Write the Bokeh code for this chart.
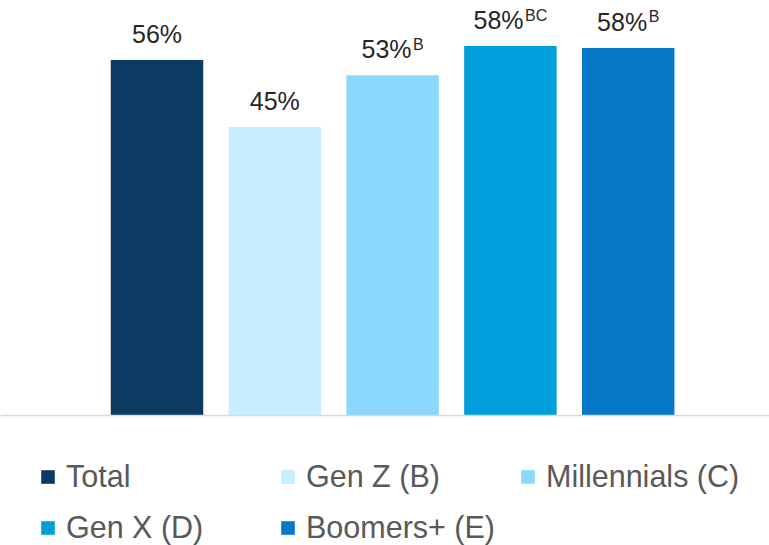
import numpy as np
from bokeh.plotting import figure
from bokeh.models import (ColumnDataSource, Range1d, Span, Legend, LegendItem)
from bokeh.core.properties import value
from bokeh.embed import file_html
from bokeh.resources import INLINE

# ---- data -------------------------------------------------------------
categories = ["Total", "Gen Z (B)", "Millennials (C)", "Gen X (D)", "Boomers+ (E)"]
values = [55.8, 45.3, 53.4, 58.0, 57.7]
value_labels = ["56%", "45%", "53%", "58%", "58%"]
sig_letters = ["", "", "B", "BC", "B"]
colors = ["#0B3A62", "#C6EEFF", "#8BD8FF", "#009FDB", "#0578C8"]

# ---- styling ----------------------------------------------------------
FONT = "Liberation Sans"
MAIN_PX = 25
SUP_PX = 16
# Arial/Liberation Sans advance widths (per 1000 em)
ADV = {"0": 556, "1": 556, "2": 556, "3": 556, "4": 556, "5": 556, "6": 556,
       "7": 556, "8": 556, "9": 556, "%": 889, "B": 667, "C": 722}


def text_w(s, px):
    return sum(ADV.get(ch, 556) for ch in s) * px / 1000.0


GAP = 1.5
main_w = [text_w(s, MAIN_PX) for s in value_labels]
sup_w = [text_w(s, SUP_PX) + (GAP if s else 0) for s in sig_letters]
main_off = [(m - s) / 2 for m, s in zip(main_w, sup_w)]
sup_off = [o + GAP for o in main_off]

x = np.arange(len(categories))
src = ColumnDataSource(dict(x=x, top=values, color=colors, cat=categories,
                            lab=value_labels, sup=sig_letters,
                            moff=main_off, soff=sup_off))

W, H = 769, 545
PX_PER_CAT = 117.8
PX_PER_PCT = 6.37
x0 = -156.5 / PX_PER_CAT
y0 = -130 / PX_PER_PCT
p = figure(width=W, height=H, output_backend="svg", toolbar_location=None,
           x_range=Range1d(x0, x0 + W / PX_PER_CAT),
           y_range=Range1d(y0, y0 + H / PX_PER_PCT),
           min_border=0, outline_line_color=None)
p.xaxis.visible = False
p.yaxis.visible = False
p.grid.visible = False
p.background_fill_color = "white"
p.border_fill_color = "white"

bars = p.vbar(x="x", top="top", bottom=0, width=0.785, source=src,
              fill_color="color", line_color=None)

p.add_layout(Span(location=0, dimension="width", line_color="#D9D9D9",
                  line_width=1.5))

p.text(x="x", y="top", text="lab", source=src, x_offset="moff", y_offset=-26,
       text_align="right", text_baseline="alphabetic",
       text_font=value(FONT), text_font_size=f"{MAIN_PX}px", text_color="#262626")
p.text(x="x", y="top", text="sup", source=src, x_offset="soff", y_offset=-31,
       text_align="left", text_baseline="alphabetic",
       text_font=value(FONT), text_font_size=f"{SUP_PX}px", text_color="#262626")

items = [LegendItem(label=c, renderers=[bars], index=i) for i, c in enumerate(categories)]
legend = Legend(items=items, location=(39, 0), orientation="horizontal", ncols=3,
                glyph_width=17, glyph_height=17, label_standoff=10,
                label_width=197, spacing=16, padding=0, margin=0,
                border_line_color=None, background_fill_alpha=0,
                label_text_font=FONT, label_text_font_size="30.5px",
                label_text_color="#595959")
p.add_layout(legend, "center")

open("out.html", "w").write(file_html(p, INLINE))
